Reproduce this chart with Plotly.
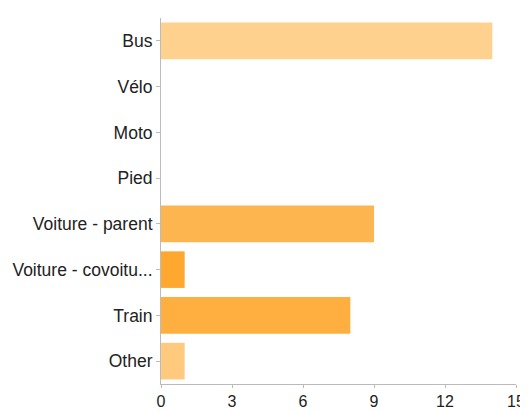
import plotly.graph_objects as go

categories = ["Bus", "Vélo", "Moto", "Pied", "Voiture - parent", "Voiture - covoitu...", "Train", "Other"]
values = [14, 0, 0, 0, 9, 1, 8, 1]
colors = ["#FED18F", "#FFC97E", "#FFC97E", "#FFC97E", "#FDB550", "#FFA830", "#FFAE40", "#FFC97E"]
x_ticks = [0, 3, 6, 9, 12, 15]

fig = go.Figure(go.Bar(
    x=values, y=categories, orientation="h",
    marker=dict(color=colors, line=dict(width=0)),
))
fig.update_layout(
    width=520, height=404,
    margin=dict(l=153, r=12, t=10, b=28),
    paper_bgcolor="white", plot_bgcolor="white",
    bargap=0.2, showlegend=False,
    font=dict(family="Liberation Sans, Arial, sans-serif", size=17, color="#222"),
)
fig.update_xaxes(
    range=[0, 15], tickvals=x_ticks, showgrid=False, zeroline=False,
    showline=True, linecolor="#bbbbbb", linewidth=1,
    ticks="outside", ticklen=3, tickcolor="#bbbbbb",
    tickfont=dict(size=16, color="#222"), automargin=False,
)
fig.update_yaxes(
    categoryorder="array", categoryarray=categories, autorange="reversed",
    showgrid=False, zeroline=False,
    showline=True, linecolor="#bbbbbb", linewidth=1,
    ticks="outside", ticklen=4, tickcolor="#bbbbbb",
    tickfont=dict(size=17.5, color="#222"), automargin=False,
)
fig.write_html("out.html")
